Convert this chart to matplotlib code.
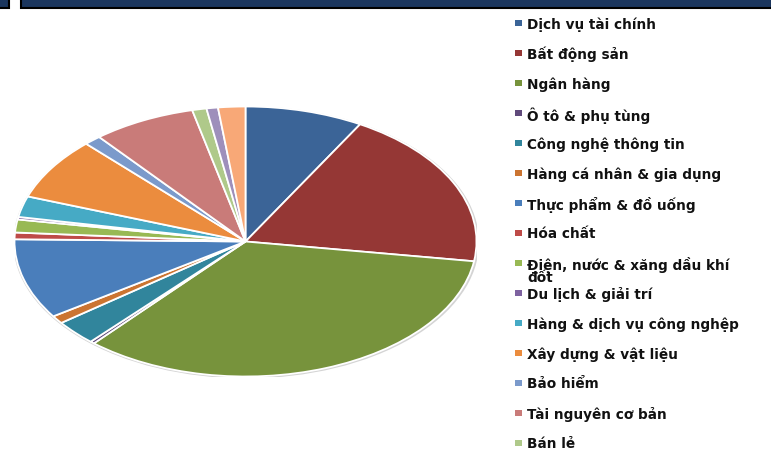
import matplotlib
matplotlib.use("Agg")
import matplotlib.pyplot as plt
from matplotlib.patches import Rectangle, Ellipse

# ---- data ----
categories = [
    "Dịch vụ tài chính", "Bất động sản", "Ngân hàng", "Ô tô & phụ tùng",
    "Công nghệ thông tin", "Hàng cá nhân & gia dụng", "Thực phẩm & đồ uống",
    "Hóa chất", "Điện, nước & xăng dầu khí\nđốt", "Du lịch & giải trí",
    "Hàng & dịch vụ công nghệp", "Xây dựng & vật liệu", "Bảo hiểm",
    "Tài nguyên cơ bản", "Bán lẻ",
]
values = [8.25, 19.05, 34.0, 0.3, 3.0, 0.95, 9.6, 0.8, 1.55, 0.3, 2.5,
          7.45, 1.2, 7.2, 1.0]
# two further slices whose legend entries fall below the visible area
extra_values = [0.8, 1.9]

colors = ["#3B6497", "#953735", "#77933C", "#604A7B", "#31859C", "#CB7431",
          "#4A7EBB", "#BE4B48", "#98B954", "#7E62A0", "#46AAC5", "#EB8C3E",
          "#7B9ACB", "#C97B79", "#AFC98A"]
extra_colors = ["#9E8FBB", "#F8A877"]

W, H = 771, 452
fig = plt.figure(figsize=(W / 100, H / 100), dpi=100)
fig.patch.set_facecolor("white")

def fx(px):
    return px / W

def fy(py):
    return 1 - py / H

# header bar
fig.patches.append(Rectangle((fx(-5), fy(9)), fx(14), 9 / H + 0.02,
                             transform=fig.transFigure, facecolor="#1B365E",
                             edgecolor="black", linewidth=1.5))
fig.patches.append(Rectangle((fx(21), fy(9)), fx(760), 9 / H + 0.02,
                             transform=fig.transFigure, facecolor="#1B365E",
                             edgecolor="black", linewidth=1.5))

# pie (stretched horizontally, like the source slide)
left, right, top, bottom = 14.5, 476.5, 107.5, 377.5
ax = fig.add_axes([fx(left), fy(bottom), fx(right - left), (bottom - top) / H])
ax.add_patch(Ellipse((0.003, -0.006), 2.016, 2.016, facecolor="#D4D4D4",
                     edgecolor="none", zorder=0))
all_vals = values + extra_values
all_cols = colors + extra_colors
ax.pie(all_vals, colors=all_cols, startangle=90, counterclock=False,
       wedgeprops=dict(edgecolor="white", linewidth=1.3), radius=1.0)
ax.set_aspect("auto")
ax.set_xlim(-1, 1)
ax.set_ylim(-1, 1)
ax.axis("off")

# legend
row0, step = 24.0, 30.0
for i, (lab, col) in enumerate(zip(categories, colors)):
    yc = row0 + i * step
    fig.patches.append(Rectangle((fx(515), fy(yc + 3)), fx(7), 6 / H,
                                 transform=fig.transFigure, facecolor=col,
                                 edgecolor="none"))
    fig.text(fx(527), fy(yc - 7), lab, fontsize=9.8, fontweight="bold",
             family="DejaVu Sans", color="#111111", va="top", ha="left",
             linespacing=0.8)

fig.savefig("out.png", dpi=100)
